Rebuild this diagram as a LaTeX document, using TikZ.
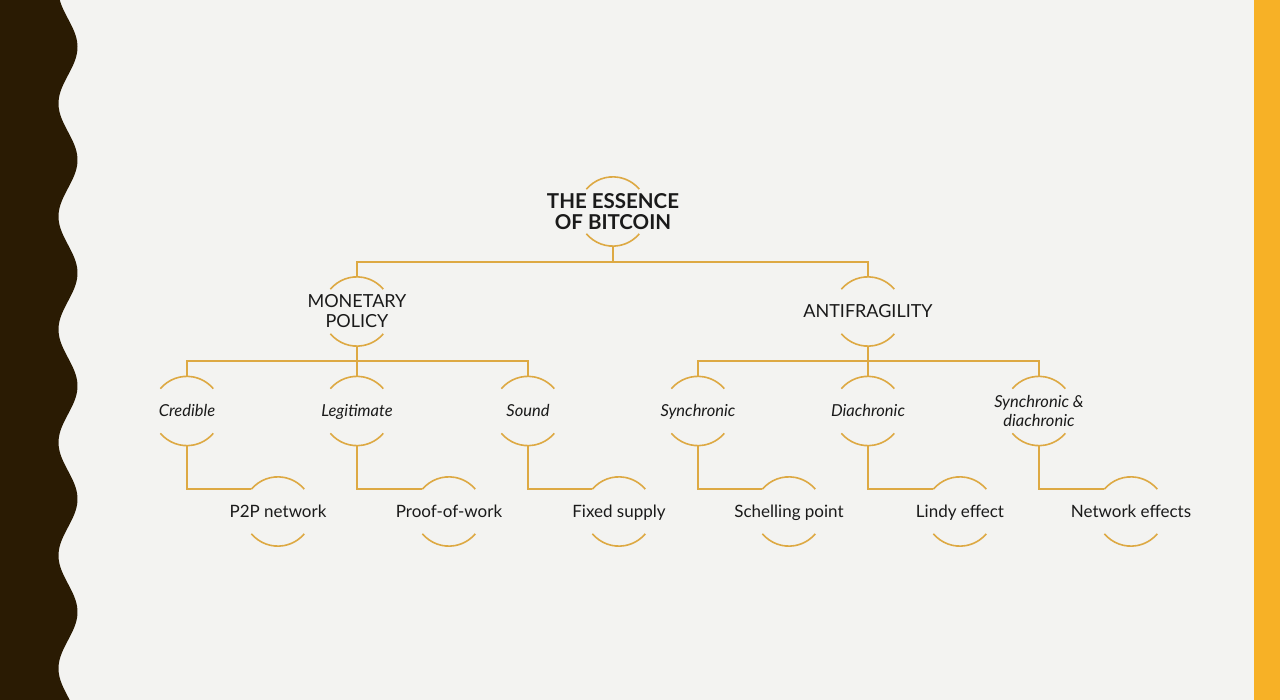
\documentclass[tikz,border=0pt]{standalone}
\usepackage{fontspec}
\setmainfont{Lato}
\usetikzlibrary{calc}
\definecolor{bg}{HTML}{F3F3F1}
\definecolor{darkwave}{HTML}{2A1B03}
\definecolor{barorange}{HTML}{F7B126}
\definecolor{gold}{HTML}{DDA943}
\definecolor{txt}{HTML}{1A1A1A}
\tikzset{
  ring/.style={circle, minimum size=69pt, inner sep=0pt, draw=none},
  lbl/.style={text=txt, align=center, inner sep=0pt, font=\fontsize{17}{19}\selectfont},
  leaflbl/.style={lbl, text height=13pt, text depth=1pt},
  caplbl/.style={lbl, font=\fontsize{18}{20}\selectfont},
  rootlbl/.style={lbl, font=\fontsize{20.5}{21.5}\selectfont\bfseries},
  itlbl/.style={lbl, font=\fontsize{16.5}{19}\selectfont\itshape},
  itone/.style={itlbl, text height=13pt, text depth=1pt},
  arcline/.style={draw=gold, line width=1.6pt},
  conn/.style={draw=gold, line width=1.4pt},
}
\newcommand\halo[1]{%
  \draw[arcline] (#1.140) arc[start angle=140, end angle=40, radius=34.5pt];
  \draw[arcline] (#1.220) arc[start angle=220, end angle=320, radius=34.5pt];}
\begin{document}
\begin{tikzpicture}[x=1pt,y=-1pt]
\fill[bg] (0,0) rectangle (1280,700);
\useasboundingbox (0,0) rectangle (1280,700);
% left wave
\fill[darkwave] (0,0) -- plot[domain=0:700, samples=300] ({68+9.5*cos(3.18584*(\x-47))}, \x) -- (0,700) -- cycle;
% right bar
\fill[barorange] (1254,0) rectangle (1280,700);

% rings
\node[ring] (root) at (613,211.5) {};
\node[ring] (mp) at (357,311.5) {};
\node[ring] (af) at (868,311.5) {};
\node[ring] (c1) at (187,411) {};
\node[ring] (c2) at (357,411) {};
\node[ring] (c3) at (528,411) {};
\node[ring] (c4) at (698,411) {};
\node[ring] (c5) at (868,411) {};
\node[ring] (c6) at (1039,411) {};
\node[ring] (l1) at (278,511.5) {};
\node[ring] (l2) at (449,511.5) {};
\node[ring] (l3) at (619,511.5) {};
\node[ring] (l4) at (789,511.5) {};
\node[ring] (l5) at (960,511.5) {};
\node[ring] (l6) at (1131,511.5) {};

\foreach \n in {root,mp,af,c1,c2,c3,c4,c5,c6,l1,l2,l3,l4,l5,l6} {\halo{\n}}

% labels
\node[rootlbl] (troot) at (root) {THE ESSENCE\\OF BITCOIN};
\node[caplbl] (tmp) at (mp) {MONETARY\\POLICY};
\node[caplbl] (taf) at (af) {ANTIFRAGILITY};
\node[itone] (tc1) at (c1) {Credible};
\node[itone] (tc2) at (c2) {Legitimate};
\node[itone] (tc3) at (c3) {Sound};
\node[itone] (tc4) at (c4) {Synchronic};
\node[itone] (tc5) at (c5) {Diachronic};
\node[itlbl] (tc6) at (c6) {Synchronic \&\\diachronic};
\node[leaflbl] (tl1) at (l1) {P2P network};
\node[leaflbl] (tl2) at (l2) {Proof-of-work};
\node[leaflbl] (tl3) at (l3) {Fixed supply};
\node[leaflbl] (tl4) at (l4) {Schelling point};
\node[leaflbl] (tl5) at (l5) {Lindy effect};
\node[leaflbl] (tl6) at (l6) {Network effects};

% connectors
\coordinate (j1) at (613,262);
\draw[conn] (root.south) -- (j1) -| (mp.north);
\draw[conn] (j1) -| (af.north);
\coordinate (j2) at (357,361);
\draw[conn] (mp.south) -- (j2) -| (c1.north);
\draw[conn] (j2) -| (c3.north);
\draw[conn] (j2) -- (c2.north);
\coordinate (j3) at (868,361);
\draw[conn] (af.south) -- (j3) -| (c4.north);
\draw[conn] (j3) -| (c6.north);
\draw[conn] (j3) -- (c5.north);
\draw[conn] (c1.south) |- (l1.140);
\draw[conn] (c2.south) |- (l2.140);
\draw[conn] (c3.south) |- (l3.140);
\draw[conn] (c4.south) |- (l4.140);
\draw[conn] (c5.south) |- (l5.140);
\draw[conn] (c6.south) |- (l6.140);
\end{tikzpicture}
\end{document}
